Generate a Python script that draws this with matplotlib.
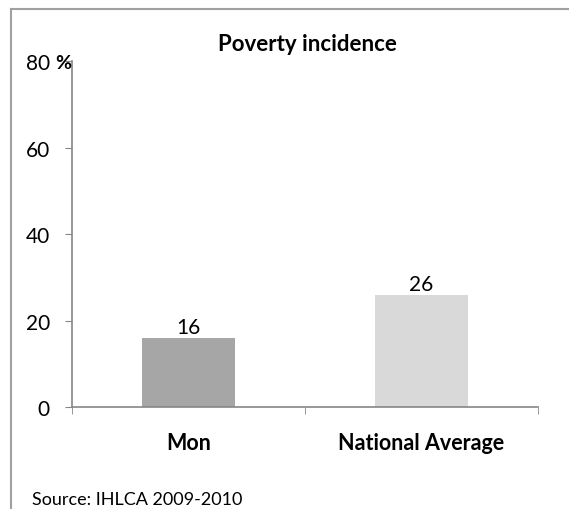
import matplotlib.pyplot as plt
from matplotlib.lines import Line2D

categories = ["Mon", "National Average"]
values = [16, 26]
bar_colors = ["#a6a6a6", "#d9d9d9"]
y_ticks = [0, 20, 40, 60, 80]

plt.rcParams['font.family'] = ['Lato', 'DejaVu Sans']

fig = plt.figure(figsize=(5.69, 5.1), dpi=100)
ax = fig.add_axes([0.1265, 0.2, 0.819, 0.6784])

x = range(len(categories))
bars = ax.bar(x, values, width=0.4, color=bar_colors, zorder=2)
for b, v in zip(bars, values):
    ax.text(b.get_x() + b.get_width() / 2, v + 0.2, str(v),
            ha='center', va='bottom', fontsize=15)

ax.set_xlim(-0.5, 1.5)
ax.set_ylim(0, 80)
ax.set_yticks(y_ticks)
ax.set_yticklabels([str(t) for t in y_ticks], fontsize=15)
ax.set_xticks(list(x))
ax.set_xticklabels(categories, fontsize=15.5, fontweight='bold')
ax.set_xticks([-0.5, 0.5, 1.5], minor=True)
ax.tick_params(axis='x', which='major', length=0, pad=18)
ax.tick_params(axis='x', which='minor', length=5, color='#868686', direction='out')
ax.tick_params(axis='y', length=5, color='#868686', pad=11)

for s in ['top', 'right']:
    ax.spines[s].set_visible(False)
for s in ['left', 'bottom']:
    ax.spines[s].set_color('#868686')
    ax.spines[s].set_linewidth(1.2)

fig.text(0.541, 0.912, "Poverty incidence", ha='center', va='center',
         fontsize=16, fontweight='bold')
fig.text(0.097, 0.876, "%", ha='left', va='center', fontsize=14, fontweight='bold')
fig.text(0.056, 0.003, "Source: IHLCA 2009-2010", ha='left', va='bottom', fontsize=13)

fig.add_artist(Line2D([0.019, 1.0], [0.98, 0.98], color='#a0a0a0', lw=1.5,
                      transform=fig.transFigure))
fig.add_artist(Line2D([0.019, 0.019], [0.0, 0.98], color='#a0a0a0', lw=1.5,
                      transform=fig.transFigure))

fig.savefig("out.png", dpi=100)
